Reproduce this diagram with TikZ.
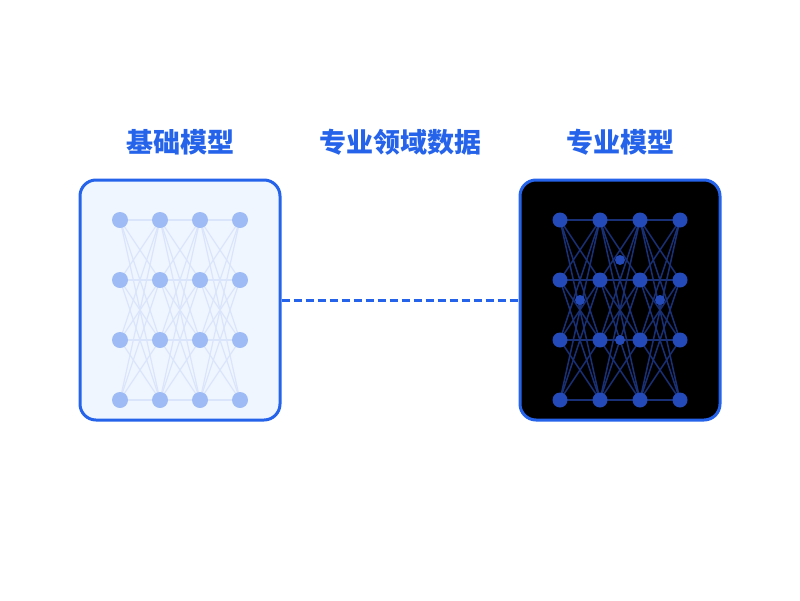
\documentclass[tikz,border=0pt]{standalone}
\usepackage{fontspec}
\newfontfamily\cjk{Noto Sans CJK SC}
\definecolor{mainblue}{HTML}{2563EB}
\definecolor{lightbg}{HTML}{EFF6FF}
\definecolor{lnode}{RGB}{158,187,246}
\definecolor{lline}{RGB}{218,229,251}
\definecolor{dnode}{RGB}{36,74,186}
\definecolor{dline}{RGB}{26,48,118}
\begin{document}
\begin{tikzpicture}[x=1pt,y=-1pt,
  panel/.style={draw=mainblue,line width=3pt,rounded corners=16pt},
  title/.style={text=mainblue,font=\cjk\bfseries\fontsize{27}{31}\selectfont,anchor=center},
  lneuron/.style={circle,fill=lnode,inner sep=0pt,minimum size=16pt},
  dneuron/.style={circle,fill=dnode,inner sep=0pt,minimum size=15pt},
  dsmall/.style={circle,fill=dnode,inner sep=0pt,minimum size=10pt},
  llink/.style={draw=lline,line width=1.2pt},
  dlink/.style={draw=dline,line width=1.5pt},
  dashlink/.style={draw=mainblue,line width=3pt,dash pattern=on 8pt off 4pt}]
\useasboundingbox (0,0) rectangle (800,600);
\fill[white] (0,0) rectangle (800,600);
% titles
\node[title] (t1) at (180,142) {基础模型};
\node[title] (t2) at (400,142) {专业领域数据};
\node[title] (t3) at (620,142) {专业模型};
% panels
\node[panel,fill=lightbg,minimum width=200pt,minimum height=240pt,inner sep=0pt] (lp) at (180,300) {};
\node[panel,fill=black,minimum width=200pt,minimum height=240pt,inner sep=0pt] (rp) at (620,300) {};
% network positions
\foreach \c in {1,...,4}{
  \foreach \r in {1,...,4}{
    \coordinate (L\c\r) at ({80+40*\c},{160+60*\r});
    \coordinate (R\c\r) at ({520+40*\c},{160+60*\r});
  }
}
\foreach \c/\n in {1/2,2/3,3/4}{
  \foreach \r in {1,...,4}{
    \foreach \s in {1,...,4}{
      \draw[llink] (L\c\r) -- (L\n\s);
      \draw[dlink] (R\c\r) -- (R\n\s);
    }
  }
}
\foreach \c in {1,...,4}{
  \foreach \r in {1,...,4}{
    \node[lneuron] (ln\c\r) at (L\c\r) {};
    \node[dneuron] (rn\c\r) at (R\c\r) {};
  }
}
\node[dsmall] (x1) at (620,260) {};
\node[dsmall] (x2) at (580,300) {};
\node[dsmall] (x3) at (660,300) {};
\node[dsmall] (x4) at (620,340) {};
% dashed connector
\draw[dashlink] (lp.east) -- (rp.west);
\end{tikzpicture}
\end{document}
